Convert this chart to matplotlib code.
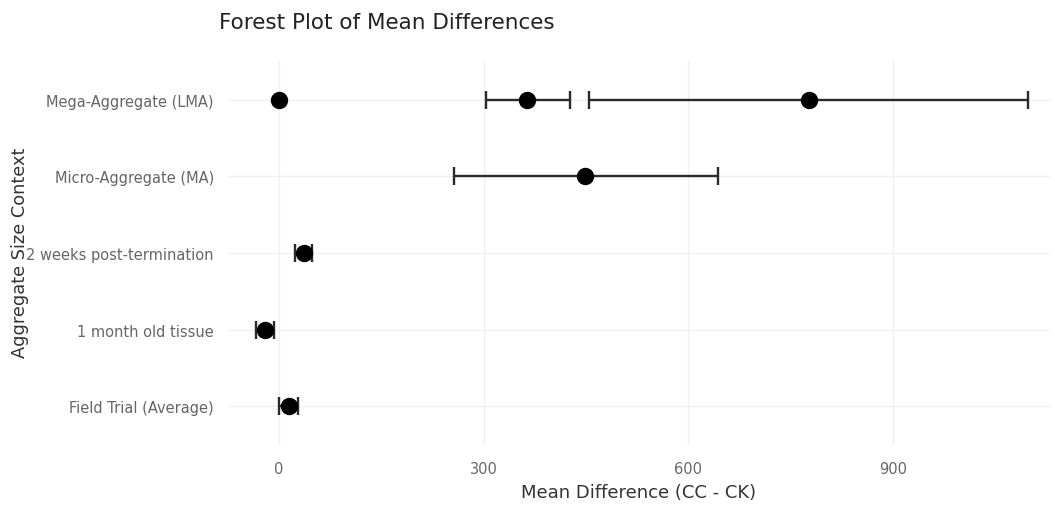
import matplotlib
matplotlib.use("Agg")
import matplotlib.pyplot as plt
import numpy as np

categories = ["Field Trial (Average)", "1 month old tissue", "2 weeks post-termination",
              "Micro-Aggregate (MA)", "Mega-Aggregate (LMA)"]

# each estimate: category, mean difference, lower CI, upper CI
est_category = ["Mega-Aggregate (LMA)", "Mega-Aggregate (LMA)", "Mega-Aggregate (LMA)",
                "Micro-Aggregate (MA)", "2 weeks post-termination",
                "1 month old tissue", "Field Trial (Average)"]
est_mean = [0, 364, 777, 449, 36, -20, 14]
est_lower = [np.nan, 303, 454, 256, 23, -34, 0]
est_upper = [np.nan, 427, 1098, 644, 49, -7, 28]

x_ticks = [0, 300, 600, 900]

fig = plt.figure(figsize=(10.55, 5.06), dpi=100)
ax = fig.add_axes([0.216, 0.119, 0.779, 0.758])

ypos = [categories.index(c) for c in est_category]
mean = np.array(est_mean, dtype=float)
lo = np.array(est_lower, dtype=float)
hi = np.array(est_upper, dtype=float)
err = np.vstack([mean - lo, hi - mean])

ax.errorbar(mean, ypos, xerr=err, fmt='none', ecolor='#2a2a2a', elinewidth=1.7,
            capsize=6.5, capthick=1.7, zorder=2)
ax.plot(mean, ypos, 'o', color='black', markersize=11.5, zorder=3, linestyle='none')

ax.set_xlim(-75, 1130)
ax.set_ylim(-0.5, 4.5)
ax.set_yticks(range(len(categories)))
ax.set_yticklabels(categories)
ax.set_xticks(x_ticks)
ax.set_xticklabels([str(t) for t in x_ticks])
ax.tick_params(axis='both', length=0, labelsize=10.5, labelcolor='#666666')
ax.tick_params(axis='y', pad=10)
ax.tick_params(axis='x', pad=12)
ax.grid(True, color='#f0f0f0', linewidth=1.0)
ax.set_axisbelow(True)
for s in ax.spines.values():
    s.set_visible(False)

ax.set_xlabel("Mean Difference (CC - CK)", fontsize=13, color='#333333', labelpad=5)
fig.text(0.010, 0.5, "Aggregate Size Context", rotation=90, va='center', ha='left',
         fontsize=12.8, color='#333333')
fig.text(0.208, 0.955, "Forest Plot of Mean Differences", ha='left', va='center',
         fontsize=15.5, color='#222222')

fig.savefig("out.png", dpi=100)
